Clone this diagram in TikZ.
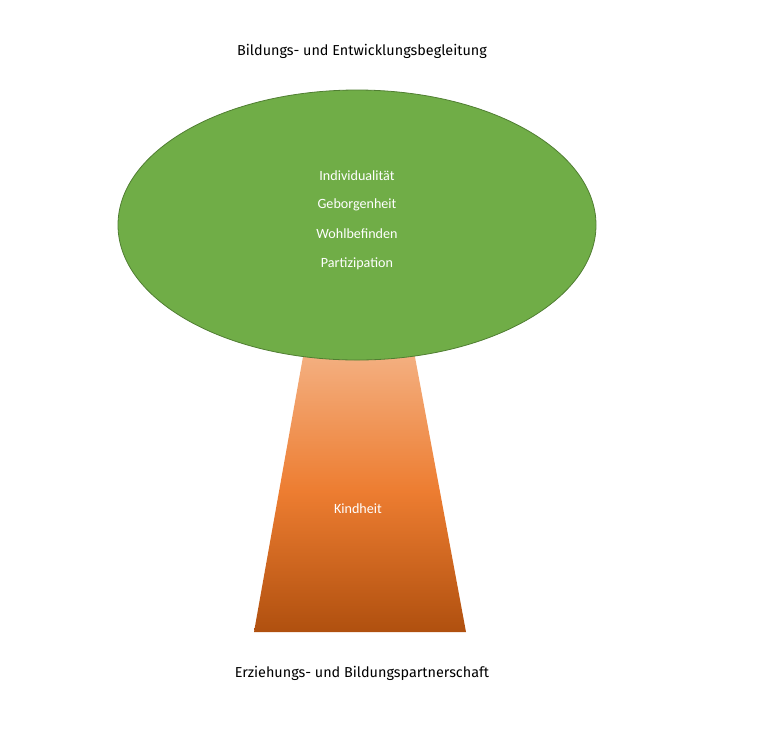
\documentclass[tikz,border=0pt]{standalone}
\usepackage{fontspec}
\setmainfont{Carlito}
\newfontfamily\titlefont{Fira Sans}
\definecolor{leaf}{HTML}{70AD47}
\definecolor{leafedge}{HTML}{507E32}
\definecolor{trunktop}{HTML}{F4B183}
\definecolor{trunkmid}{HTML}{ED7D31}
\definecolor{trunkbot}{HTML}{B0500F}
\begin{document}
\begin{tikzpicture}[x=1pt,y=-1pt,
  inner/.style={text=white,font=\fontsize{14.1}{16}\selectfont},
  title/.style={text=black,font=\titlefont\fontsize{14.4}{16}\selectfont}]
\useasboundingbox (0,0) rectangle (768,732);
\shade[top color=trunktop, bottom color=trunkbot, middle color=trunkmid]
  (304.2,350) -- (413.7,350) -- (466,632) -- (254,632) -- cycle;
\draw[fill=leaf, draw=leafedge, line width=0.8pt] (357,225) ellipse [x radius=239, y radius=135];
\node[title] (t1) at (362,51) {Bildungs- und Entwicklungsbegleitung};
\node[title] (t2) at (362,673) {Erziehungs- und Bildungspartnerschaft};
\node[inner] (a) at (357,176) {Individualität};
\node[inner] (b) at (357,205) {Geborgenheit};
\node[inner] (c) at (357,234) {Wohlbefinden};
\node[inner] (d) at (357,264) {Partizipation};
\node[inner] (k) at (358,509) {Kindheit};
\end{tikzpicture}
\end{document}
